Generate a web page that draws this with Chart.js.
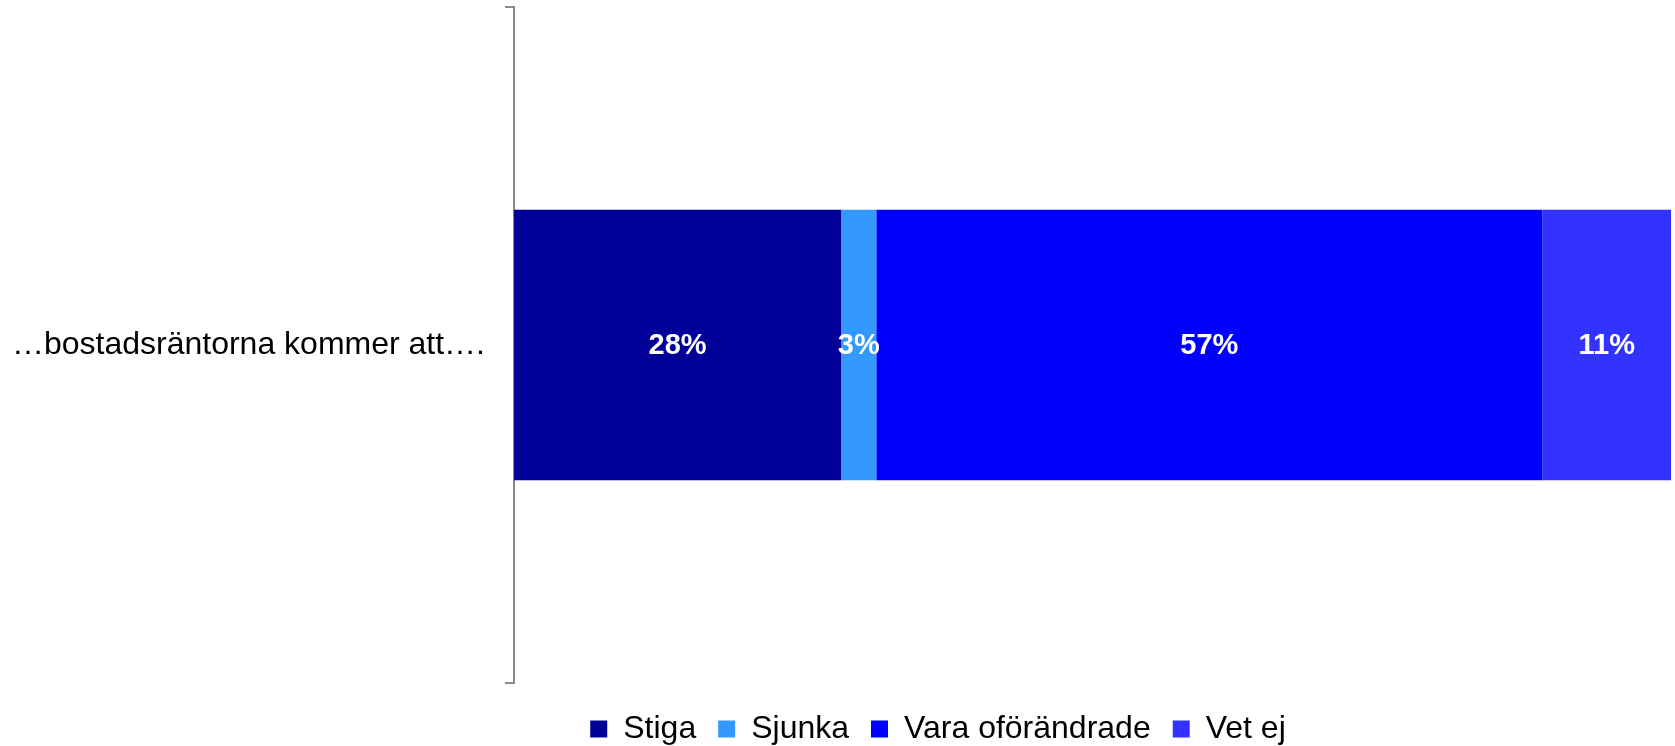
<!DOCTYPE html>
<html>
<head>
<meta charset="utf-8">
<script src="https://cdn.jsdelivr.net/npm/chart.js@4"></script>
<style>
  html, body { margin: 0; padding: 0; background: #fff; }
  #wrap { width: 1675px; height: 746px; }
</style>
</head>
<body>
<div id="wrap"><canvas id="chart"></canvas></div>
<script>
const categories = ['…bostadsräntorna kommer att….'];
const seriesNames = ['Stiga', 'Sjunka', 'Vara oförändrade', 'Vet ej'];
const stiga = [28];
const sjunka = [3];
const varaOforandrade = [57];
const vetEj = [11];
const axisMax = 99;

const colors = ['#000099', '#3399ff', '#0000ff', '#3333ff'];
const font = 'Liberation Sans, Arial, sans-serif';

// draws the white % labels in the middle of each bar piece
const barLabels = {
  id: 'barLabels',
  afterDatasetsDraw(chart) {
    const ctx = chart.ctx;
    ctx.save();
    ctx.fillStyle = '#fff';
    ctx.font = 'bold 29px ' + font;
    ctx.textAlign = 'center';
    ctx.textBaseline = 'middle';
    chart.data.datasets.forEach((ds, i) => {
      chart.getDatasetMeta(i).data.forEach((bar, j) => {
        const p = bar.getCenterPoint();
        ctx.fillText(ds.data[j] + '%', p.x, p.y + 1);
      });
    });
    ctx.restore();
  }
};

// legend box: fixed height and shifted so it sits like the original
const legendPlace = {
  id: 'legendPlace',
  beforeUpdate(chart) {
    const lg = chart.legend;
    if (lg && !lg._patched) {
      const fit = lg.fit;
      lg.fit = function () { fit.call(this); this.height = 63; };
      lg._patched = true;
    }
  },
  afterLayout(chart) {
    chart.legend.left = 205;
    chart.legend.top += 8;
  }
};

new Chart(document.getElementById('chart'), {
  type: 'bar',
  data: {
    labels: categories,
    datasets: [
      { label: seriesNames[0], data: stiga, backgroundColor: colors[0] },
      { label: seriesNames[1], data: sjunka, backgroundColor: colors[1] },
      { label: seriesNames[2], data: varaOforandrade, backgroundColor: colors[2] },
      { label: seriesNames[3], data: vetEj, backgroundColor: colors[3] }
    ]
  },
  options: {
    indexAxis: 'y',
    responsive: true,
    maintainAspectRatio: false,
    animation: false,
    barPercentage: 0.4,
    categoryPercentage: 1,
    layout: { padding: { top: 7, right: 4, left: 0, bottom: 0 } },
    scales: {
      x: {
        stacked: true,
        display: false,
        min: 0,
        max: axisMax
      },
      y: {
        stacked: true,
        afterFit(scale) {
          scale.width = 514;
          scale.paddingTop = 0;
          scale.paddingBottom = 0;
        },
        border: { display: true, color: '#8a8a8a', width: 2 },
        grid: { drawOnChartArea: false, tickLength: 9, color: '#8a8a8a', lineWidth: 2, offset: true },
        ticks: { color: '#000', padding: 20, font: { family: font, size: 32 } }
      }
    },
    plugins: {
      legend: {
        position: 'bottom',
        labels: {
          color: '#000',
          boxWidth: 17,
          boxHeight: 17,
          padding: 22,
          font: { family: font, size: 32 }
        }
      },
      tooltip: { enabled: false }
    }
  },
  plugins: [barLabels, legendPlace]
});
</script>
</body>
</html>
